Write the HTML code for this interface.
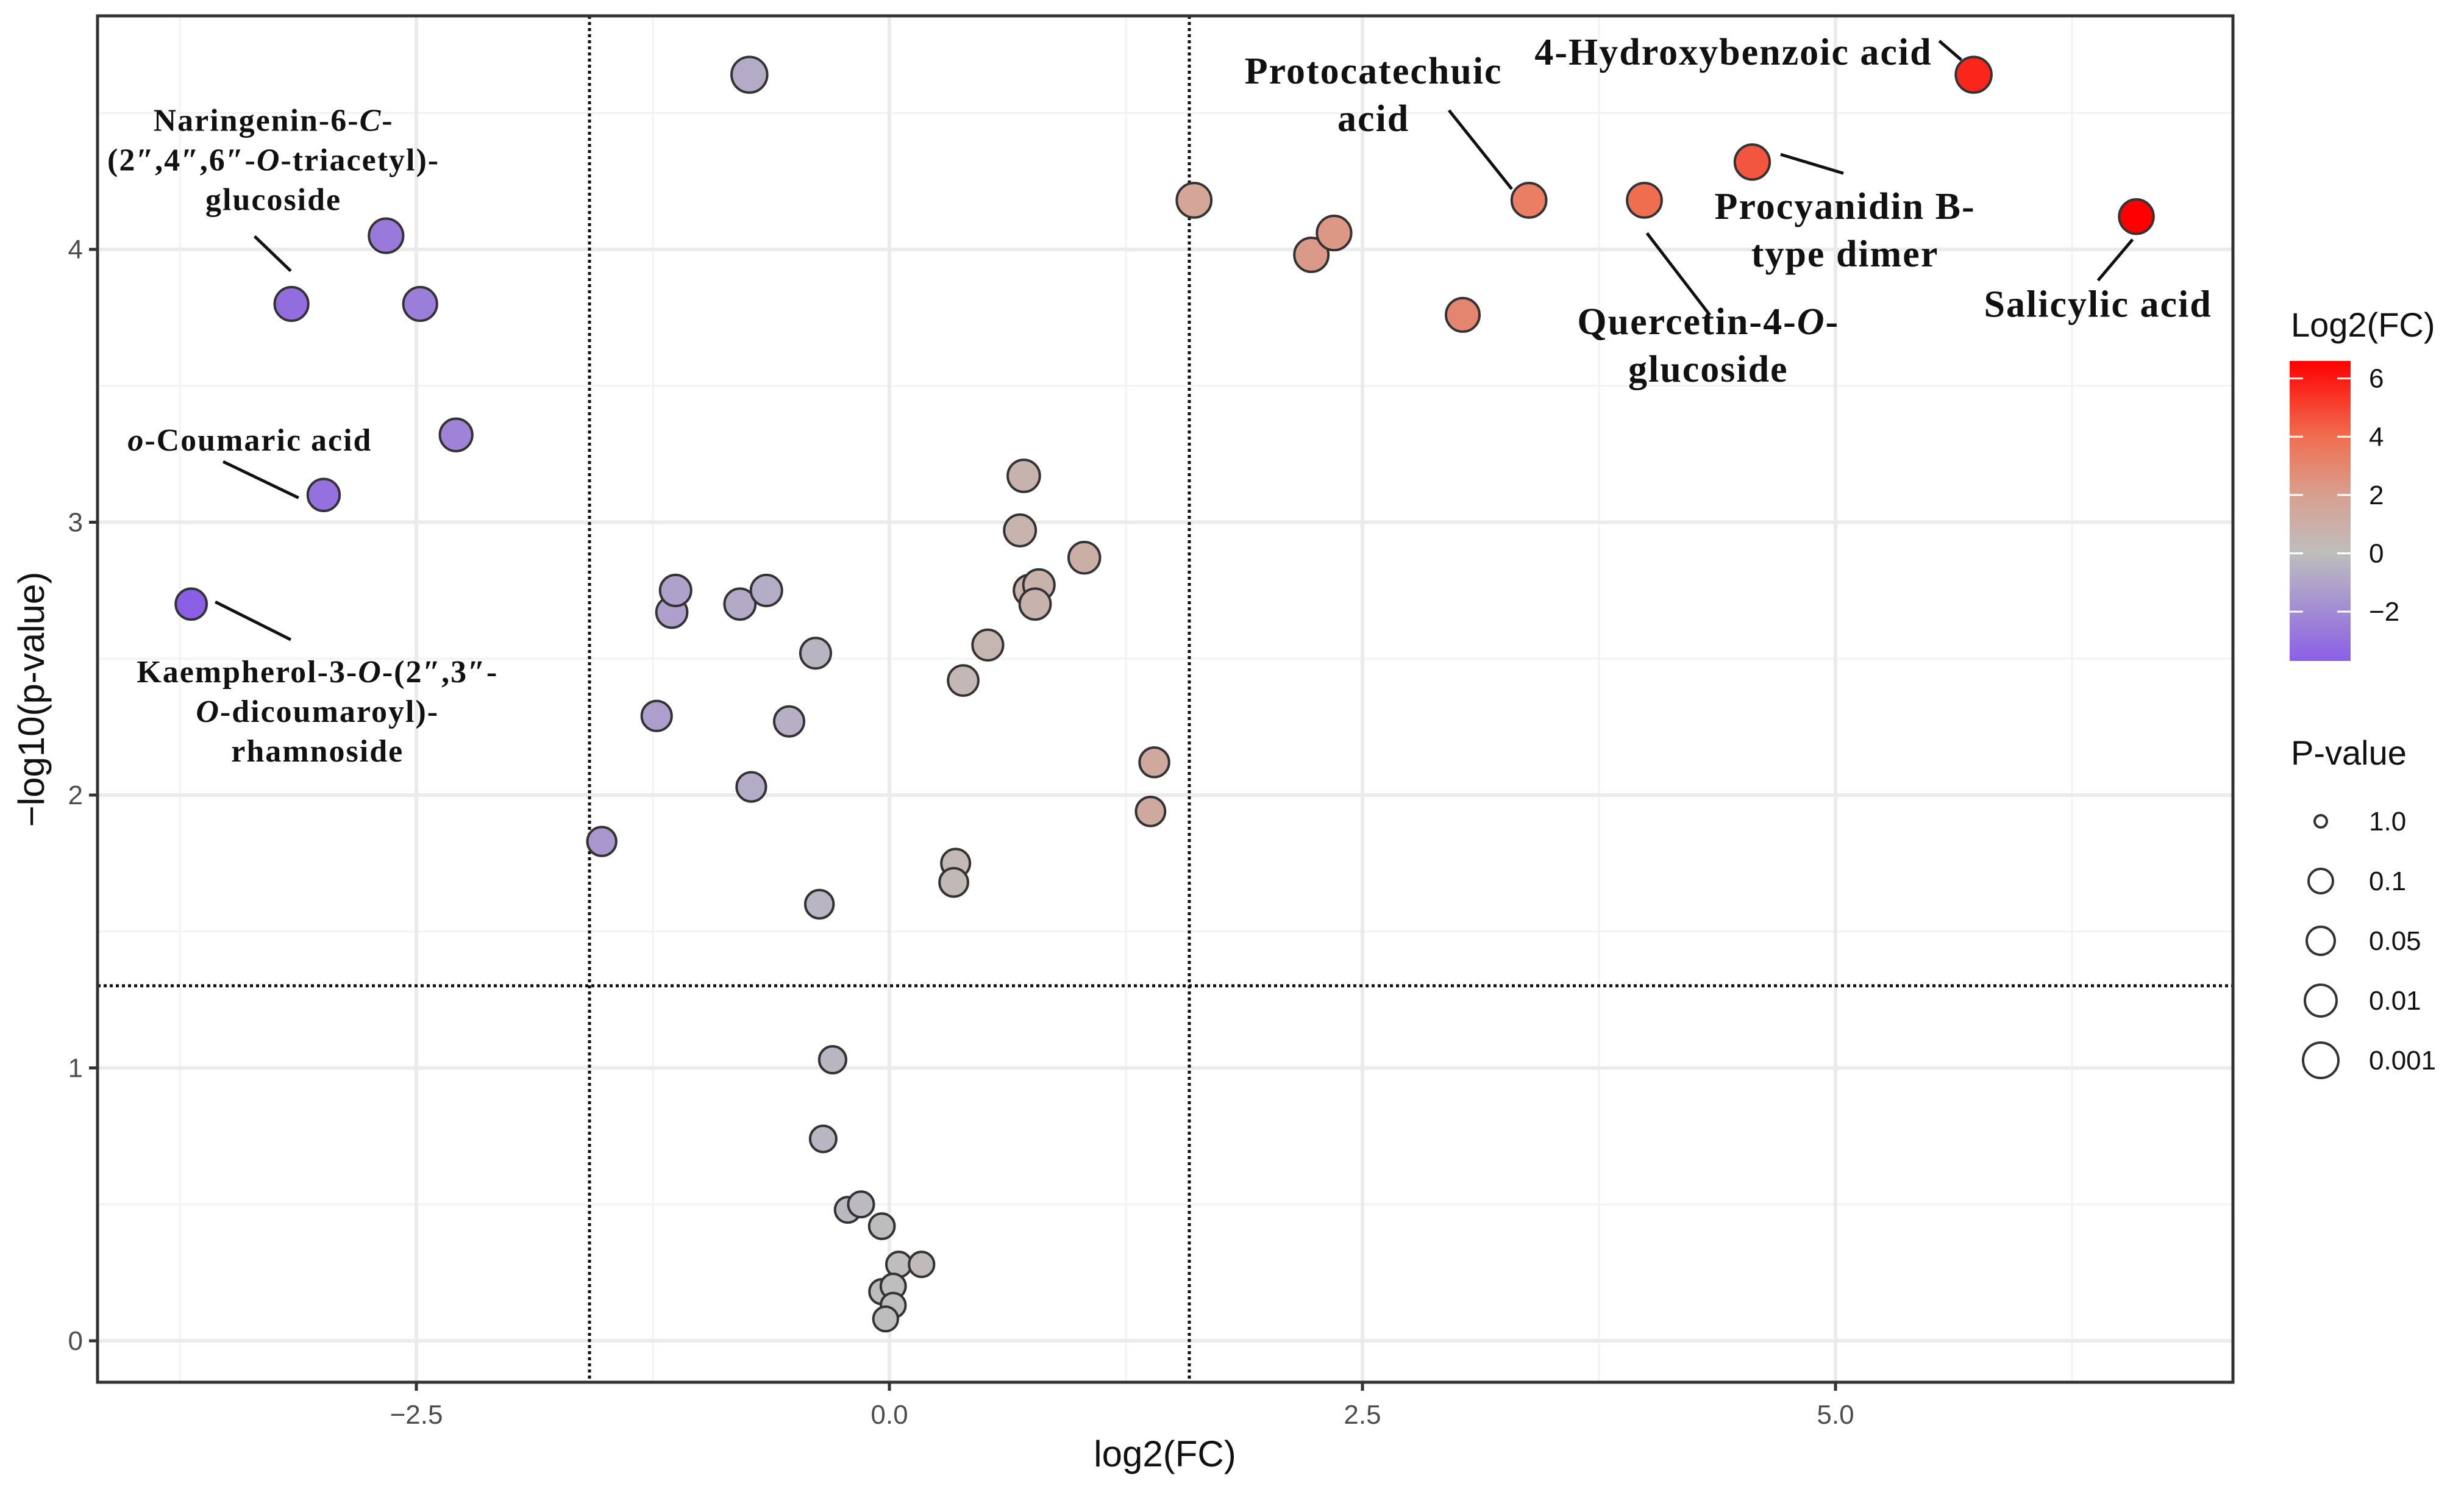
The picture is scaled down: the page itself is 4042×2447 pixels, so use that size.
<!DOCTYPE html>
<html><head><meta charset="utf-8"><style>
html,body{margin:0;padding:0;background:#fff}
svg{display:block}
.lbl{font-family:"Liberation Serif",serif;font-weight:bold;fill:#111}
.ax{font-family:"Liberation Sans",sans-serif}
</style></head><body>
<svg id="chart" width="4042" height="2447" viewBox="0 0 4042 2447" xmlns="http://www.w3.org/2000/svg">
<defs><linearGradient id="cg" x1="0" y1="1" x2="0" y2="0">
<stop offset="0" stop-color="#8a5fe6"/><stop offset="0.359" stop-color="#bebebe"/><stop offset="0.553" stop-color="#d8a090"/><stop offset="0.748" stop-color="#f06e50"/><stop offset="1" stop-color="#ff0000"/></linearGradient></defs>
<g id="grid"></g>
<g id="points"></g>
<g id="annot"></g>
<g id="axes"></g>
<g id="legend"></g>
</svg>
<script>
const fcValues=[-0.74,-2.66,-3.16,-2.48,-2.29,-2.99,-3.69,-1.52,-1.23,-1.15,-1.13,-0.79,-0.65,-0.39,-0.53,-0.73,-0.37,-0.30,-0.35,-0.22,-0.15,-0.04,0.05,0.17,-0.04,0.02,0.02,-0.02,0.35,0.34,0.39,0.52,0.71,0.69,0.74,0.79,0.77,1.03,1.40,1.38,1.61,2.23,2.35,3.03,3.38,3.99,4.56,5.73,6.59];
const pValues=[4.64,4.05,3.80,3.80,3.32,3.10,2.70,1.83,2.29,2.67,2.75,2.70,2.75,2.52,2.27,2.03,1.60,1.03,0.74,0.48,0.50,0.42,0.28,0.28,0.18,0.20,0.13,0.08,1.75,1.68,2.42,2.55,3.17,2.97,2.75,2.77,2.70,2.87,2.12,1.94,4.18,3.98,4.06,3.76,4.18,4.18,4.32,4.64,4.12];
const xTicks=[-2.5,0,2.5,5];
const xTickLabels=["\u22122.5","0.0","2.5","5.0"];
const yTicks=[0,1,2,3,4];
const cbTicks=[6,4,2,0,-2];
const cbTickLabels=["6","4","2","0","\u22122"];
const sizeLabels=["1.0","0.1","0.05","0.01","0.001"];
const sizeRadii=[10,20,23,26,29];

const NS="http://www.w3.org/2000/svg";
function el(t,a,p){const e=document.createElementNS(NS,t);for(const k in a)e.setAttribute(k,a[k]);p.appendChild(e);return e;}
const L=160,R=3663,T=26,B=2267;
const X=v=>1459+v*310.4;
const Y=v=>2199-v*447.5;
const grid=document.getElementById('grid'),pts=document.getElementById('points'),ax=document.getElementById('axes'),lg=document.getElementById('legend'),an=document.getElementById('annot');
el('rect',{x:L,y:T,width:R-L,height:B-T,fill:'#fff'},grid);
for(let v=-3.75;v<=6.5;v+=2.5){const g=el('line',{x1:X(v),x2:X(v),y1:T,y2:B,stroke:'#f2f2f2','stroke-width':3},grid);}
for(let v=0.5;v<=4.6;v+=1){const g=el('line',{x1:L,x2:R,y1:Y(v),y2:Y(v),stroke:'#f2f2f2','stroke-width':3},grid);}
xTicks.forEach(v=>{const g=el('line',{x1:X(v),x2:X(v),y1:T,y2:B,stroke:'#ebebeb','stroke-width':6},grid);});
yTicks.forEach(v=>{const g=el('line',{x1:L,x2:R,y1:Y(v),y2:Y(v),stroke:'#ebebeb','stroke-width':6},grid);});
[-1.585,1.585].forEach(v=>{const g=el('line',{x1:X(v),x2:X(v),y1:T,y2:B,stroke:'#111','stroke-width':5,'stroke-dasharray':'5 5'},grid);});
{const g=el('line',{x1:L,x2:R,y1:Y(1.301),y2:Y(1.301),stroke:'#111','stroke-width':5,'stroke-dasharray':'5 5'},grid);}
function lerp(a,b,t){return a.map((x,i)=>Math.round(x+(b[i]-x)*t));}
const hiStops=[[0,[190,190,190]],[2,[216,160,144]],[4,[240,110,80]],[6.6,[255,0,0]]];
function color(v){let c;
 if(v<0){c=lerp([190,190,190],[138,95,230],Math.min(1,-v/3.7));}
 else{c=hiStops[hiStops.length-1][1];for(let i=0;i<hiStops.length-1;i++){const a=hiStops[i],b=hiStops[i+1];if(v<=b[0]){c=lerp(a[1],b[1],(v-a[0])/(b[0]-a[0]));break;}}}
 return `rgb(${c[0]},${c[1]},${c[2]})`;}
fcValues.forEach((v,i)=>{const c=el('circle',{cx:X(v),cy:Y(pValues[i]),r:20+2*pValues[i],fill:color(v),stroke:'#333','stroke-width':4},pts);
 });
{const f=el('rect',{x:L,y:T,width:R-L,height:B-T,fill:'none',stroke:'#333','stroke-width':5},ax);}
xTicks.forEach((v,i)=>{el('line',{x1:X(v),x2:X(v),y1:B,y2:B+14,stroke:'#333','stroke-width':5},ax);
 const t=el('text',{x:X(v),y:B+68,'text-anchor':'middle','font-size':44,fill:'#4d4d4d',class:'ax'},ax);t.textContent=xTickLabels[i];
 });
yTicks.forEach(v=>{el('line',{x1:L-14,x2:L,y1:Y(v),y2:Y(v),stroke:'#333','stroke-width':5},ax);
 const t=el('text',{x:L-24,y:Y(v)+15,'text-anchor':'end','font-size':44,fill:'#4d4d4d',class:'ax'},ax);t.textContent=String(v);
 });
{const t=el('text',{x:1911,y:2405,'text-anchor':'middle','font-size':60,fill:'#111',class:'ax'},ax);t.textContent='log2(FC)';}
{const t=el('text',{x:0,y:0,'text-anchor':'middle','font-size':60,fill:'#111',class:'ax',transform:'translate(72,1147) rotate(-90)'},ax);t.textContent='\u2212log10(p-value)';}
const sx=2.578,sy=2.584;
function lab(lines,cx,cy,fs,dy,name){const t=el('text',{x:cx*sx,y:cy*sy,'text-anchor':'middle','font-size':fs,'letter-spacing':2,class:'lbl'},an);
 lines.forEach((ln,i)=>{const s=el('tspan',{x:cx*sx,dy:i?dy:0},t);s.innerHTML=ln;});}
function seg(x1,y1,x2,y2){const l=el('line',{x1:x1*sx,y1:y1*sy,x2:x2*sx,y2:y2*sy,stroke:'#111','stroke-width':5},an);}
lab(['Naringenin-6-<tspan font-style="italic">C</tspan>-','(2″,4″,6″-<tspan font-style="italic">O</tspan>-triacetyl)-','glucoside'],174,83,52,65,'label-naringenin');
seg(162,150,185,172);
lab(['<tspan font-style="italic">o</tspan>-Coumaric acid'],159,286,52,0,'label-o-coumaric');
seg(142,293,190,316);
lab(['Kaempherol-3-<tspan font-style="italic">O</tspan>-(2″,3″-','<tspan font-style="italic">O</tspan>-dicoumaroyl)-','rhamnoside'],202,433,52,65,'label-kaempherol');
seg(137,382,185,406);
lab(['Protocatechuic','acid'],874,53,62,78,'label-protocatechuic');
seg(922,70,962,120);
lab(['4-Hydroxybenzoic acid'],1103,41,62,0,'label-4-hydroxybenzoic');
seg(1234,26,1248,38);
lab(['Procyanidin B-','type dimer'],1174,139,62,78,'label-procyanidin');
seg(1133,98,1173,110);
lab(['Quercetin-4-<tspan font-style="italic">O</tspan>-','glucoside'],1087,212,62,78,'label-quercetin');
seg(1048,148,1088,200);
lab(['Salicylic acid'],1335,201,62,0,'label-salicylic');
seg(1335,178,1357,152);
{const t=el('text',{x:3758,y:552,'font-size':56,fill:'#111',class:'ax'},lg);t.textContent='Log2(FC)';}
{const r=el('rect',{x:3756,y:592,width:100,height:492,fill:'url(#cg)'},lg);}
const CB=v=>592+(6.6-v)*47.8;
cbTicks.forEach((v,i)=>{el('line',{x1:3756,x2:3778,y1:CB(v),y2:CB(v),stroke:'#fff','stroke-width':3},lg);el('line',{x1:3834,x2:3856,y1:CB(v),y2:CB(v),stroke:'#fff','stroke-width':3},lg);
 const t=el('text',{x:3886,y:CB(v)+15,'font-size':44,fill:'#111',class:'ax'},lg);t.textContent=cbTickLabels[i];});
{const t=el('text',{x:3758,y:1254,'font-size':56,fill:'#111',class:'ax'},lg);t.textContent='P-value';}
sizeLabels.forEach((s,i)=>{const cy=1347+i*98;const c=el('circle',{cx:3807,cy:cy,r:sizeRadii[i],fill:'none',stroke:'#333','stroke-width':4},lg);
 const t=el('text',{x:3886,y:cy+15,'font-size':44,fill:'#111',class:'ax'},lg);t.textContent=s;});
</script>
</body></html>
